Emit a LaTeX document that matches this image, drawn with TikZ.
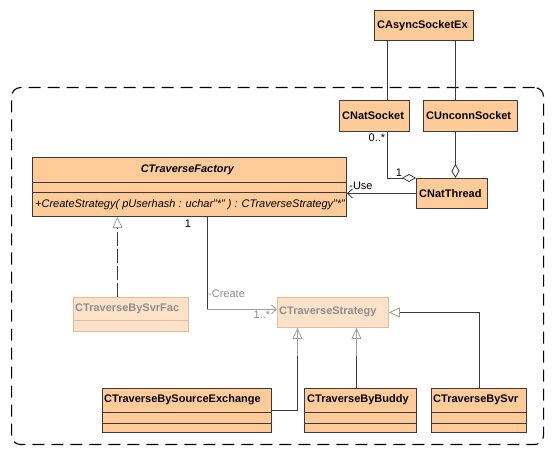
\documentclass[tikz,border=0pt]{standalone}
\usepackage{fontspec}
\setmainfont{Liberation Sans}
\usetikzlibrary{arrows.meta,calc}
\definecolor{umlfill}{HTML}{FFCC99}
\definecolor{umldraw}{HTML}{3A3A3A}
\definecolor{fadefill}{HTML}{FDE2CA}
\definecolor{fadedraw}{HTML}{E6BC98}
\definecolor{fadetext}{HTML}{8E8E8E}
\definecolor{fadeline}{HTML}{A0A0A0}
\begin{document}
\begin{tikzpicture}[x=1pt,y=-1pt,
  font=\fontsize{11}{13}\selectfont,
  cbox/.style={draw=umldraw, fill=umlfill, line width=0.9pt, inner sep=0pt, anchor=north west},
  fbox/.style={draw=fadedraw, fill=fadefill, line width=0.9pt, inner sep=0pt, anchor=north west},
  ctitle/.style={font=\fontsize{11}{13}\selectfont\bfseries, text=black, inner sep=0pt, anchor=west},
  ftitle/.style={ctitle, text=fadetext},
  cline/.style={draw=umldraw, line width=0.9pt},
  fline/.style={draw=fadedraw, line width=0.9pt},
  conn/.style={draw=umldraw, line width=0.8pt},
  fconn/.style={draw=fadeline, line width=0.8pt},
  gen/.style={-{Triangle[open,length=11pt,width=10pt,color=fadeline]}},
  assoc/.style={-{Straight Barb[length=5pt,width=9pt]}},
  agg/.style={{Diamond[open,length=14pt,width=8pt]}-},
  lbl/.style={inner sep=0pt, font=\fontsize{11}{13}\selectfont},
  flbl/.style={lbl, text=fadetext},
  framebox/.style={draw=black, line width=1.1pt, dash pattern=on 12pt off 7pt,
     rounded corners=9pt, inner sep=0pt, anchor=north west}
]
\useasboundingbox (0,0) rectangle (552,454);
\fill[white] (0,0) rectangle (552,454);

% package frame
\node[framebox, minimum width=532pt, minimum height=357pt] (pkg) at (11,87) {};

% classes
\node[cbox, minimum width=99pt, minimum height=30pt] (as) at (374,10) {};
\node[ctitle] (ast) at ($(as.west)+(3,0)$) {CAsyncSocketEx};

\node[cbox, minimum width=70pt, minimum height=31pt] (ns) at (339,100) {};
\node[ctitle] (nst) at ($(ns.west)+(3,0)$) {CNatSocket};

\node[cbox, minimum width=94pt, minimum height=31pt] (uc) at (423,100) {};
\node[ctitle] (uct) at ($(uc.west)+(3,0)$) {CUnconnSocket};

\node[cbox, minimum width=71pt, minimum height=30pt] (nt) at (416,178) {};
\node[ctitle] (ntt) at ($(nt.west)+(3,0)$) {CNatThread};

\node[cbox, minimum width=314pt, minimum height=59pt] (fac) at (32,157) {};
\draw[cline] ($(fac.north west)+(0,25)$) -- ($(fac.north east)+(0,25)$);
\draw[cline] ($(fac.north west)+(0,35)$) -- ($(fac.north east)+(0,35)$);
\node[ctitle, font=\fontsize{11}{13}\selectfont\bfseries\itshape, anchor=center] (fact) at ($(fac.north)+(-2,12.5)$) {CTraverseFactory};
\node[lbl, font=\fontsize{11}{13}\selectfont\itshape, anchor=west] (facm) at ($(fac.north west)+(3,47.5)$) {+CreateStrategy( pUserhash : uchar"*" ) : CTraverseStrategy"*"};

\node[fbox, minimum width=115pt, minimum height=34pt] (sf) at (73,297) {};
\draw[fline] ($(sf.north west)+(0,23)$) -- ($(sf.north east)+(0,23)$);
\node[ftitle] (sft) at ($(sf.north west)+(2,11.5)$) {CTraverseBySvrFac};

\node[fbox, minimum width=111pt, minimum height=30pt] (st) at (277,297) {};
\node[ftitle] (stt) at ($(st.north west)+(2,15)$) {CTraverseStrategy};

\node[cbox, minimum width=169pt, minimum height=44pt] (se) at (102,388) {};
\draw[cline] ($(se.north west)+(0,24)$) -- ($(se.north east)+(0,24)$);
\draw[cline] ($(se.north west)+(0,35)$) -- ($(se.north east)+(0,35)$);
\node[ctitle] (set) at ($(se.north west)+(2,12)$) {CTraverseBySourceExchange};

\node[cbox, minimum width=112pt, minimum height=44pt] (bd) at (304,388) {};
\draw[cline] ($(bd.north west)+(0,24)$) -- ($(bd.north east)+(0,24)$);
\draw[cline] ($(bd.north west)+(0,35)$) -- ($(bd.north east)+(0,35)$);
\node[ctitle] (bdt) at ($(bd.north west)+(3,12)$) {CTraverseByBuddy};

\node[cbox, minimum width=95pt, minimum height=44pt] (bs) at (431,388) {};
\draw[cline] ($(bs.north west)+(0,24)$) -- ($(bs.north east)+(0,24)$);
\draw[cline] ($(bs.north west)+(0,35)$) -- ($(bs.north east)+(0,35)$);
\node[ctitle] (bst) at ($(bs.north west)+(2,12)$) {CTraverseBySvr};

% socket inheritance lines
\draw[conn] ([xshift=13pt]ns.north) -- ([xshift=13pt]ns.north |- as.south);
\draw[conn] ([xshift=-15pt]uc.north) -- ([xshift=-15pt]uc.north |- as.south);

% aggregations
\draw[conn, agg] ([xshift=-15pt]uc.south |- nt.north) -- ([xshift=-15pt]uc.south);
\draw[conn, agg] (nt.north west) -| ([xshift=13pt]ns.south);
\node[lbl] (l0) at (377,138) {0..*};
\node[lbl] (l1) at (399,173) {1};

% use
\draw[conn, assoc] (nt.west) -- (nt.west -| fac.east);
\node[lbl] (luse) at (361,186) {-Use};

% create
\path ([xshift=18pt]fac.south) |- coordinate (cc) ([yshift=3pt]st.west);
\draw[conn] ([xshift=18pt]fac.south) -- (cc);
\draw[fconn, assoc] (cc) -- ([yshift=3pt]st.west);
\node[lbl] (lc1) at (188,224) {1};
\node[flbl, anchor=west] (lcreate) at (208,294) {-Create};
\node[flbl] (lcm) at (262,315) {1..*};

% factory realization
\draw[conn, dash pattern=on 14pt off 3pt, gen] ([xshift=-13.5pt]sf.north) -- ([xshift=-13.5pt]sf.north |- fac.south);

% strategy generalizations
\draw[conn, gen] (se.east) -| ([xshift=-35.5pt]st.south);
\draw[fconn] ([xshift=-35.5pt]st.south) -- ([xshift=-35.5pt,yshift=-28pt]st.south);
\draw[conn, gen] ([xshift=-4pt]bd.north) -- ([xshift=-4pt]bd.north |- st.south);
\draw[fconn] ([xshift=-4pt]st.south -| bd.north) -- ([xshift=-4pt,yshift=-28pt]st.south -| bd.north);
\draw[conn, gen] (bs.north) |- (st.east);
\end{tikzpicture}
\end{document}
